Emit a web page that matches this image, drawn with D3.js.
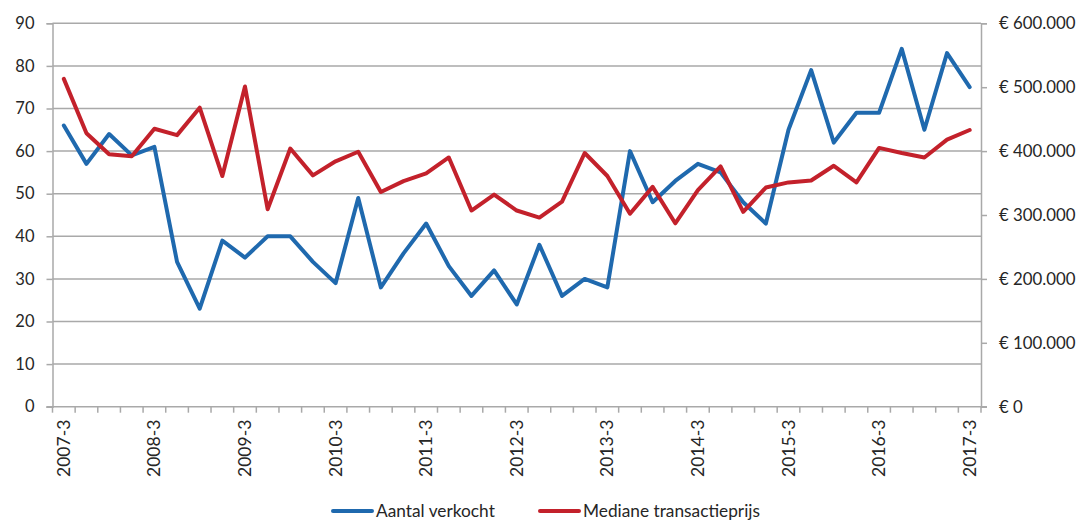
<!DOCTYPE html>
<html><head><meta charset="utf-8">
<script src="https://cdn.jsdelivr.net/npm/d3@7/dist/d3.min.js"></script>
<style>
html,body{margin:0;padding:0;background:#fff;}
svg{display:block;font-family:Lato,"Open Sans",sans-serif;}
</style></head>
<body><svg id="chart" width="1082" height="521"></svg>
<script>
const categories = ["2007-3","2007-4","2008-1","2008-2","2008-3","2008-4","2009-1","2009-2","2009-3","2009-4",
"2010-1","2010-2","2010-3","2010-4","2011-1","2011-2","2011-3","2011-4","2012-1","2012-2","2012-3","2012-4",
"2013-1","2013-2","2013-3","2013-4","2014-1","2014-2","2014-3","2014-4","2015-1","2015-2","2015-3","2015-4",
"2016-1","2016-2","2016-3","2016-4","2017-1","2017-2","2017-3"];
const aantalVerkocht = [66,57,64,59,61,34,23,39,35,40,40,34,29,49,28,36,43,33,26,32,24,38,26,30,28,60,48,53,57,55,48,43,65,79,62,69,69,84,65,83,75];
const medianePrijs = [513000,428000,395000,392000,435000,425000,468000,361000,501000,309000,404000,362000,384000,399000,336000,353000,365000,390000,307000,332000,307000,296000,321000,397000,361000,302000,344000,287000,339000,376000,305000,343000,351000,354000,377000,351000,405000,397000,390000,418000,433000];
const leftTicks = [0,10,20,30,40,50,60,70,80,90];
const rightTicks = [0,100000,200000,300000,400000,500000,600000];
const xTickLabels = ["2007-3","2008-3","2009-3","2010-3","2011-3","2012-3","2013-3","2014-3","2015-3","2016-3","2017-3"];
const seriesNames = ["Aantal verkocht","Mediane transactieprijs"];
const colors = ["#1f69ae","#c3212b"];

const svg = d3.select("#chart");
const L = 52.5, R = 981, T = 23.3, B = 406.7;
const x = d3.scaleBand().domain(categories).range([L,R]).paddingInner(0).paddingOuter(0);
const yL = d3.scaleLinear().domain([0,90]).range([B,T]);
const yR = d3.scaleLinear().domain([0,600000]).range([B,T]);
const grid = "#a9a9a9";

// gridlines
svg.append("g").selectAll("line").data(leftTicks.filter(d=>d>0)).join("line")
  .attr("x1",L).attr("x2",R).attr("y1",d=>yL(d)).attr("y2",d=>yL(d))
  .attr("stroke",grid).attr("stroke-width",1.5);

// left axis
const gl = svg.append("g").attr("transform",`translate(${L},0)`)
  .call(d3.axisLeft(yL).tickValues(leftTicks).tickSize(6).tickPadding(12));
gl.select(".domain").attr("stroke",grid).attr("stroke-width",1.5);
gl.selectAll(".tick line").attr("stroke",grid).attr("stroke-width",1.5);
gl.selectAll("text").attr("font-size",16.5).attr("fill","#262626").attr("font-family","Lato,sans-serif");

// right axis
const fmtEuro = d => "€ " + d3.format(",")(d).replace(/,/g,".");
const gr = svg.append("g").attr("transform",`translate(${R},0)`)
  .call(d3.axisRight(yR).tickValues(rightTicks).tickSize(6).tickFormat(fmtEuro).tickPadding(12));
gr.select(".domain").attr("stroke",grid).attr("stroke-width",1.5);
gr.selectAll(".tick line").attr("stroke",grid).attr("stroke-width",1.5);
gr.selectAll("text").attr("font-size",16.8).attr("fill","#262626").attr("font-family","Lato,sans-serif");

// bottom axis (category boundaries ticks)
const gb = svg.append("g");
gb.append("line").attr("x1",L-6).attr("x2",R+6).attr("y1",B).attr("y2",B).attr("stroke",grid).attr("stroke-width",1.5);
const bounds = categories.map(c=>x(c)).concat([R]);
gb.selectAll("line.t").data(bounds).join("line").attr("class","t")
  .attr("x1",d=>d).attr("x2",d=>d).attr("y1",B).attr("y2",B+6).attr("stroke",grid).attr("stroke-width",1.5);
gb.selectAll("text").data(xTickLabels).join("text")
  .attr("transform",d=>`translate(${x(d)+x.bandwidth()/2+6},${B+13}) rotate(-90)`)
  .attr("text-anchor","end").attr("font-size",17.5).attr("fill","#262626")
  .text(d=>d);

// lines
const cx = d => x(d)+x.bandwidth()/2;
const lineL = d3.line().x((d,i)=>cx(categories[i])).y(d=>yL(d));
const lineR = d3.line().x((d,i)=>cx(categories[i])).y(d=>yR(d));
svg.append("path").datum(aantalVerkocht).attr("d",lineL).attr("fill","none")
  .attr("stroke",colors[0]).attr("stroke-width",4).attr("stroke-linejoin","round").attr("stroke-linecap","round");
svg.append("path").datum(medianePrijs).attr("d",lineR).attr("fill","none")
  .attr("stroke",colors[1]).attr("stroke-width",4).attr("stroke-linejoin","round").attr("stroke-linecap","round");

// legend
const legX = [333, 540];
const lg = svg.append("g");
seriesNames.forEach((n,i)=>{
  lg.append("line").attr("x1",legX[i]).attr("x2",legX[i]+39).attr("y1",511).attr("y2",511)
    .attr("stroke",colors[i]).attr("stroke-width",4).attr("stroke-linecap","round");
  lg.append("text").attr("x",legX[i]+43).attr("y",517).attr("font-size",17.3).attr("fill","#262626").text(n);
});
</script></body></html>
